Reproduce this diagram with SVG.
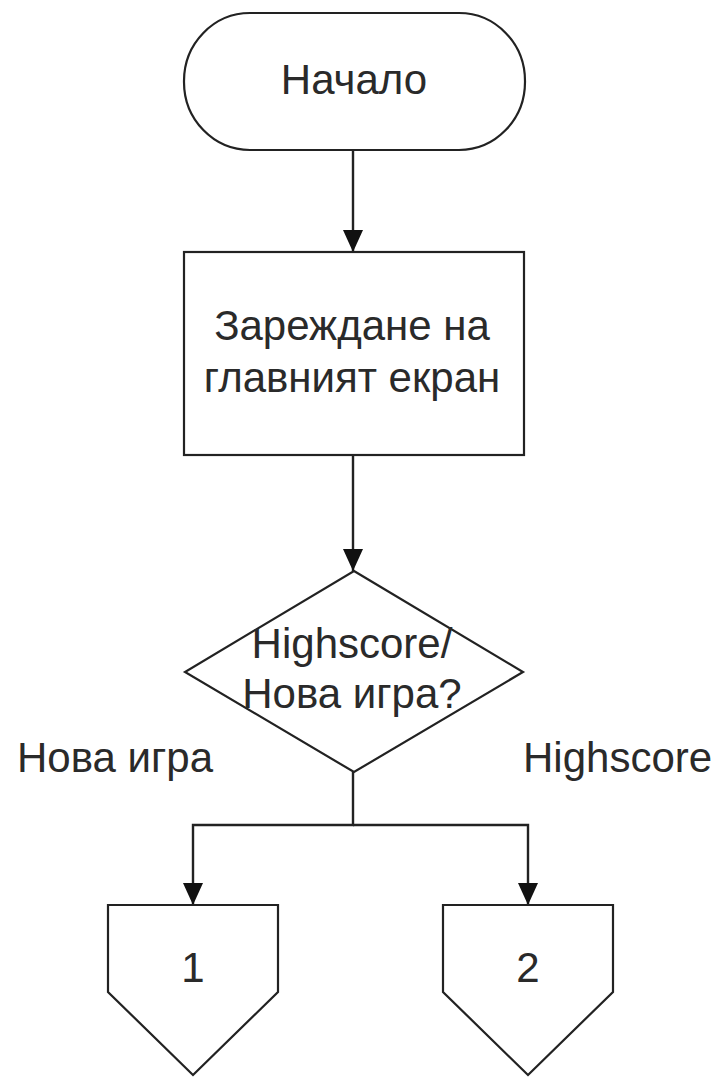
<svg xmlns="http://www.w3.org/2000/svg" width="720" height="1077" viewBox="0 0 720 1077">
<style>
.shape{fill:#fff;stroke:#222;stroke-width:2.2}
.conn{fill:none;stroke:#222;stroke-width:2.4}
.t{font-family:"Liberation Sans",Arial,sans-serif;font-size:42px;fill:#2a2a2a;text-anchor:middle}
.lbl{font-family:"Liberation Sans",Arial,sans-serif;font-size:42px;fill:#2a2a2a}
</style>
<defs>
<marker id="arr" markerUnits="userSpaceOnUse" viewBox="0 -10 22 20" refX="22" refY="0" markerWidth="22" markerHeight="20" orient="auto">
<path d="M0,-10 L22,0 L0,10 z" fill="#111"/>
</marker>
</defs>
<rect width="720" height="1077" fill="#fff"/>
<g id="connectors">
<line class="conn" x1="353" y1="150" x2="353" y2="252" marker-end="url(#arr)"/>
<line class="conn" x1="353" y1="455" x2="353" y2="571" marker-end="url(#arr)"/>
<polyline class="conn" points="353,772 353,825 193,825 193,905" marker-end="url(#arr)"/>
<polyline class="conn" points="353,825 528,825 528,905" marker-end="url(#arr)"/>
</g>
<g id="start">
<rect class="shape" x="184" y="13" width="341" height="137" rx="66" ry="68"/>
<text class="t" x="354" y="94">Начало</text>
</g>
<g id="load">
<rect class="shape" x="184" y="252" width="340" height="203"/>
<text class="t" x="352" y="340">Зареждане на</text>
<text class="t" x="352" y="392">главният екран</text>
</g>
<g id="decision">
<polygon class="shape" points="354,571 523,672 354,772 185,672"/>
<text class="t" x="352" y="658">Highscore/</text>
<text class="t" x="352" y="708">Нова игра?</text>
</g>
<g id="label-new">
<text class="lbl" x="17" y="772">Нова игра</text>
</g>
<g id="label-high">
<text class="lbl" x="523" y="772">Highscore</text>
</g>
<g id="conn1">
<polygon class="shape" points="108,905 278,905 278,992 193,1075 108,992"/>
<text class="t" x="193" y="982">1</text>
</g>
<g id="conn2">
<polygon class="shape" points="443,905 613,905 613,992 528,1075 443,992"/>
<text class="t" x="528" y="982">2</text>
</g>
</svg>
